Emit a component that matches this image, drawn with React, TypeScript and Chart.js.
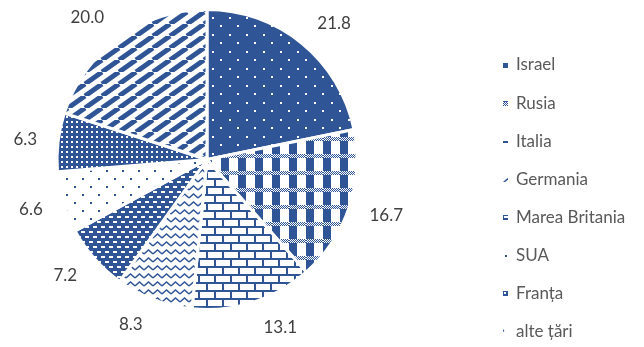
import { useEffect, useRef } from "react";
import { Chart, registerables } from "chart.js";
Chart.register(...registerables);

const categories = ["Israel", "Rusia", "Italia", "Germania", "Marea Britania", "SUA", "Franța", "alte țări"];
const shares = [21.8, 16.7, 13.1, 8.3, 7.2, 6.6, 6.3, 20.0];

const BLUE = "#2F5597";
const WHITE = "#FFFFFF";

type Draw = (g: CanvasRenderingContext2D, w: number, h: number) => void;

function makeTile(w: number, h: number, draw: Draw): CanvasPattern {
  const c = document.createElement("canvas");
  c.width = w;
  c.height = h;
  const g = c.getContext("2d")!;
  draw(g, w, h);
  return g.createPattern(c, "repeat")!;
}

function buildPatterns(): CanvasPattern[] {
  return [
    // Israel: blue with white dots
    makeTile(17, 17, (g, w, h) => {
      g.fillStyle = BLUE; g.fillRect(0, 0, w, h);
      g.fillStyle = WHITE; g.fillRect(8, 0, 2, 2); g.fillRect(16, 8, 1, 2); g.fillRect(0, 8, 1, 2);
    }),
    // Rusia: plaid
    makeTile(17, 17, (g, w, h) => {
      g.fillStyle = WHITE; g.fillRect(0, 0, w, h);
      g.fillStyle = BLUE; g.fillRect(0, 0, 8, h);
      g.fillStyle = WHITE; g.fillRect(0, 1, w, 4);
      g.fillStyle = BLUE;
      for (let x = 0; x < w; x++) for (let y = 1; y < 5; y++) if ((x + y) % 2 === 0) g.fillRect(x, y, 1, 1);
    }),
    // Italia: bricks
    makeTile(16, 16, (g, w, h) => {
      g.fillStyle = WHITE; g.fillRect(0, 0, w, h);
      g.fillStyle = BLUE;
      g.fillRect(0, 2, w, 2); g.fillRect(0, 10, w, 2);
      g.fillRect(6, 4, 2, 6); g.fillRect(14, 12, 2, 4); g.fillRect(14, 0, 2, 2);
    }),
    // Germania: zigzag
    makeTile(9, 8, (g, w, h) => {
      g.fillStyle = WHITE; g.fillRect(0, 0, w, h);
      g.strokeStyle = BLUE; g.lineWidth = 1.5;
      g.beginPath(); g.moveTo(0, 6); g.lineTo(4.5, 2); g.lineTo(9, 6); g.stroke();
    }),
    // Marea Britania: blue with white dashes
    makeTile(8, 10, (g, w, h) => {
      g.fillStyle = BLUE; g.fillRect(0, 0, w, h);
      g.fillStyle = WHITE;
      g.fillRect(1, 1, 4, 2); g.fillRect(5, 6, 3, 2); g.fillRect(0, 6, 1, 2);
    }),
    // SUA: white with sparse blue dots
    makeTile(16, 16, (g, w, h) => {
      g.fillStyle = WHITE; g.fillRect(0, 0, w, h);
      g.fillStyle = BLUE; g.fillRect(2, 2, 2, 2); g.fillRect(10, 10, 2, 2);
    }),
    // Franța: blue with small white dots
    makeTile(5, 5, (g, w, h) => {
      g.fillStyle = BLUE; g.fillRect(0, 0, w, h);
      g.fillStyle = WHITE; g.fillRect(1, 1, 2, 2);
    }),
    // alte țări: wide upward diagonal
    makeTile(17, 12, (g, w, h) => {
      g.fillStyle = WHITE; g.fillRect(0, 0, w, h);
      g.strokeStyle = BLUE; g.lineWidth = 5;
      g.beginPath();
      g.moveTo(-w, h); g.lineTo(0, 0);
      g.moveTo(0, h); g.lineTo(w, 0);
      g.moveTo(w, h); g.lineTo(2 * w, 0);
      g.stroke();
    }),
  ];
}

const labelPlugin = {
  id: "outerLabels",
  afterDatasetsDraw(chart: any) {
    const ctx = chart.ctx as CanvasRenderingContext2D;
    const meta = chart.getDatasetMeta(0);
    const data = chart.data.datasets[0].data as number[];
    ctx.save();
    ctx.font = "17px Lato";
    ctx.fillStyle = "#404040";
    ctx.textAlign = "center";
    ctx.textBaseline = "middle";
    meta.data.forEach((arc: any, i: number) => {
      const p = arc.getProps(["x", "y", "startAngle", "endAngle", "outerRadius"], true);
      const mid = (p.startAngle + p.endAngle) / 2;
      const dx = Math.cos(mid);
      const dy = Math.sin(mid);
      const txt = data[i].toFixed(1);
      const w = ctx.measureText(txt).width;
      const R = p.outerRadius + 15;
      const x = p.x + dx * R + Math.sign(dx) * (w / 2 + 6);
      const y = p.y + dy * (R + 11);
      ctx.fillText(txt, x, y);
    });
    ctx.restore();
  },
};

const legendPlugin = {
  id: "sideLegend",
  afterDraw(chart: any) {
    const ctx = chart.ctx as CanvasRenderingContext2D;
    const meta = chart.getDatasetMeta(0);
    const labels = chart.data.labels as string[];
    const x0 = chart.width - 141;
    const y0 = 65;
    const step = 38.1;
    ctx.save();
    ctx.font = "17px Lato";
    ctx.textBaseline = "middle";
    ctx.textAlign = "left";
    labels.forEach((lab, i) => {
      const y = y0 + i * step;
      ctx.save();
      ctx.translate(x0, Math.round(y - 2.5));
      ctx.fillStyle = meta.data[i].options.backgroundColor;
      ctx.fillRect(0, 0, 5, 5);
      ctx.restore();
      ctx.fillStyle = "#595959";
      ctx.fillText(lab, x0 + 13, y);
    });
    ctx.restore();
  },
};

export default function App() {
  const ref = useRef<HTMLCanvasElement>(null);
  useEffect(() => {
    document.body.style.margin = "0";
    const chart = new Chart(ref.current!, {
      type: "pie",
      data: {
        labels: categories,
        datasets: [
          {
            data: shares,
            backgroundColor: buildPatterns() as any,
            borderColor: WHITE,
            borderWidth: 3,
          },
        ],
      },
      options: {
        animation: false,
        responsive: true,
        maintainAspectRatio: false,
        layout: { padding: { left: 0, right: 230, top: 8, bottom: 36 } },
        plugins: { legend: { display: false }, tooltip: { enabled: false } },
      },
      plugins: [labelPlugin, legendPlugin],
    });
    return () => chart.destroy();
  }, []);
  return (
    <div style={{ position: "absolute", left: 0, top: 0, width: 644, height: 347 }}>
      <canvas ref={ref} />
    </div>
  );
}
